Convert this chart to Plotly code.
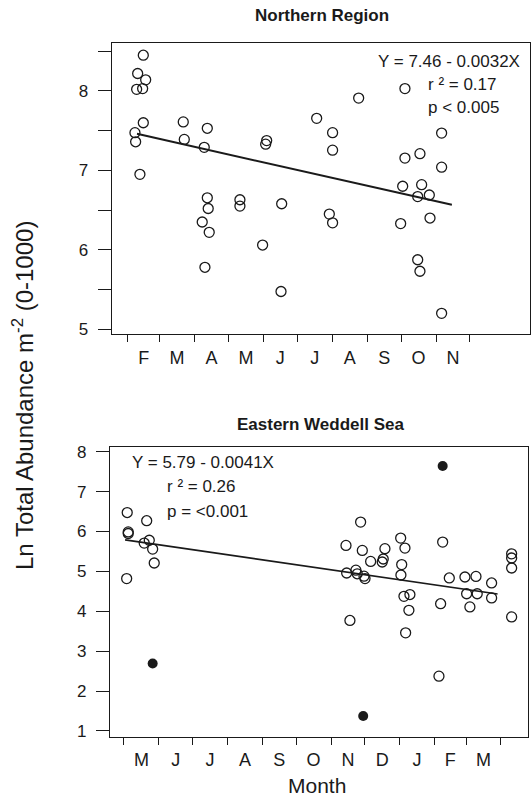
import numpy as np
import plotly.graph_objects as go

# ---------------- data ----------------
# Northern Region (x = day counted from 1 February)
north_day = [13.6, 8.6, 15.7, 7.7, 13.0, 13.6, 6.2, 6.8, 10.6,
             49.0, 49.9,
             70.3, 67.6, 70.3, 71.1, 65.8, 72.0, 68.2,
             99.2, 99.2,
             122.9, 122.0, 136.2, 119.3, 135.6,
             167.2, 181.3, 181.3, 178.4, 181.3,
             204.4,
             245.4, 245.4, 258.7, 243.4, 260.2, 256.7, 267.0, 241.6, 267.6, 256.7, 258.7,
             277.9, 277.9, 277.9]
north_ln = [8.45, 8.22, 8.14, 8.02, 8.03, 7.60, 7.475, 7.36, 6.95,
            7.61, 7.39,
            7.53, 7.29, 6.655, 6.52, 6.35, 6.22, 5.78,
            6.63, 6.55,
            7.375, 7.33, 6.58, 6.06, 5.475,
            7.655, 7.475, 7.255, 6.45, 6.34,
            7.91,
            8.03, 7.155, 7.21, 6.80, 6.82, 6.67, 6.69, 6.33, 6.40, 5.875, 5.73,
            7.47, 7.04, 5.20]
north_fit_day = [8, 287]
north_intercept, north_slope = 7.46, -0.0032

# Eastern Weddell Sea (x = day counted from 1 May)
east_day = [2.9, 3.8, 3.8, 2.4, 20.2, 18.0, 22.5, 25.5, 26.9,
            210.3, 197.3, 211.8, 219.2, 231.9, 230.4, 229.5, 197.9, 206.1, 207.3, 213.3, 214.2, 200.8,
            245.9, 249.7, 246.8, 246.1, 248.8, 254.1, 253.2, 250.3,
            283.2, 289.1, 303.0, 312.8, 304.5, 313.9, 326.7, 326.7, 281.4, 307.4, 279.9,
            344.5, 344.5, 344.5, 344.5]
east_ln = [6.475, 5.99, 5.95, 4.82, 6.27, 5.71, 5.78, 5.56, 5.21,
           6.235, 5.65, 5.525, 5.25, 5.57, 5.31, 5.235, 4.96, 5.03, 4.94, 4.88, 4.82, 3.77,
           5.835, 5.585, 5.17, 4.91, 4.375, 4.42, 4.025, 3.46,
           5.735, 4.835, 4.86, 4.875, 4.44, 4.44, 4.71, 4.335, 4.19, 4.11, 2.375,
           5.44, 5.335, 5.085, 3.86]
east_out_day = [25.5, 212.6, 283.2]
east_out_ln = [2.69, 1.375, 7.64]
east_fit_day = [1, 332]
east_intercept, east_slope = 5.79, -0.0041

north_months = ["F", "M", "A", "M", "J", "J", "A", "S", "O", "N"]
north_month_len = [28, 31, 30, 31, 30, 31, 31, 30, 31, 30]
east_months = ["M", "J", "J", "A", "S", "O", "N", "D", "J", "F", "M"]
east_month_len = [31, 30, 31, 31, 30, 31, 30, 31, 31, 28, 31]

north_yticks = [5, 6, 7, 8]
east_yticks = [1, 2, 3, 4, 5, 6, 7, 8]

# ---------------- figure ----------------
W, H = 531, 809
FONT = "Liberation Sans, Arial, Helvetica, sans-serif"
INK = "#1a1a1a"


def px_x(p):
    return p / W


def px_y(p):
    return 1 - p / H


def month_ticks(lengths):
    bounds = np.concatenate([[0], np.cumsum(lengths)])
    mids = (bounds[:-1] + bounds[1:]) / 2
    return bounds.tolist(), mids.tolist()


nb, nm = month_ticks(north_month_len)
eb, em = month_ticks(east_month_len)

fig = go.Figure()

marker_open = dict(symbol="circle-open", size=10, color=INK, line=dict(width=1.3, color=INK))

fig.add_trace(go.Scatter(x=north_day, y=north_ln, mode="markers", marker=marker_open,
                         xaxis="x", yaxis="y", showlegend=False))
nfx = np.array(north_fit_day, dtype=float)
fig.add_trace(go.Scatter(x=nfx, y=north_intercept + north_slope * (nfx - nfx[0]), mode="lines",
                         line=dict(color=INK, width=2), xaxis="x", yaxis="y", showlegend=False))

fig.add_trace(go.Scatter(x=east_day, y=east_ln, mode="markers", marker=marker_open,
                         xaxis="x2", yaxis="y2", showlegend=False))
fig.add_trace(go.Scatter(x=east_out_day, y=east_out_ln, mode="markers",
                         marker=dict(symbol="circle", size=10, color=INK),
                         xaxis="x2", yaxis="y2", showlegend=False))
efx = np.array(east_fit_day, dtype=float)
fig.add_trace(go.Scatter(x=efx, y=east_intercept + east_slope * (efx - efx[0]), mode="lines",
                         line=dict(color=INK, width=1.6), xaxis="x2", yaxis="y2", showlegend=False))

axis_common = dict(showline=True, mirror=True, linecolor=INK, linewidth=1.2,
                   showgrid=False, zeroline=False, tickcolor=INK, automargin=False,
                   tickfont=dict(family=FONT, size=17, color=INK))


def xaxis_cfg(domain, rng, mids, names, bounds, anchor):
    return dict(axis_common, domain=domain, range=rng, anchor=anchor,
                tickmode="array", tickvals=mids, ticktext=names, ticks="",
                ticklabelstandoff=7,
                tickfont=dict(family=FONT, size=18, color=INK),
                minor=dict(tickmode="array", tickvals=bounds, ticks="outside",
                           ticklen=7, tickwidth=1.2, tickcolor=INK, showgrid=False))


def yaxis_cfg(domain, rng, vals, minor_step, anchor):
    cfg = dict(axis_common, domain=domain, range=rng, anchor=anchor,
               tickmode="array", tickvals=vals, ticktext=[str(v) for v in vals],
               ticks="outside", ticklen=13, tickwidth=1.2, ticklabelstandoff=6)
    if minor_step:
        cfg["minor"] = dict(tick0=vals[0], dtick=minor_step, ticks="outside", ticklen=13,
                            tickwidth=1.2, tickcolor=INK, showgrid=False)
    return cfg


fig.update_layout(
    template="none",
    width=W, height=H,
    margin=dict(l=0, r=0, t=0, b=0),
    paper_bgcolor="white", plot_bgcolor="white",
    font=dict(family=FONT, color=INK),
    xaxis=xaxis_cfg([px_x(111.7), px_x(530)], [-14.4, 356.2], nm, north_months, nb, "y"),
    yaxis=yaxis_cfg([px_y(334), px_y(43.3)], [4.94, 8.60], north_yticks, 0.5, "x"),
    xaxis2=xaxis_cfg([px_x(110), px_x(528.3)], [-12.4, 359.3], em, east_months, eb, "y2"),
    yaxis2=yaxis_cfg([px_y(736.7), px_y(446.7)], [0.857, 8.125], east_yticks, None, "x2"),
)

ann = []


def add_text(text, x, y, size, xanchor="center", bold=False, angle=0):
    ann.append(dict(text=f"<b>{text}</b>" if bold else text, x=px_x(x), y=px_y(y),
                    xref="paper", yref="paper", xanchor=xanchor, yanchor="middle",
                    showarrow=False, textangle=angle,
                    font=dict(family=FONT, size=size, color=INK)))


add_text("Northern Region", 322, 16, 17, bold=True)
add_text("Eastern Weddell Sea", 320, 424, 17, bold=True)
add_text("Y = 7.46 - 0.0032X", 522, 61, 17, xanchor="right")
add_text("r ² = 0.17", 426, 84, 17, xanchor="left")
add_text("p < 0.005", 426, 108, 17, xanchor="left")
add_text("Y = 5.79 - 0.0041X", 130, 462, 17, xanchor="left")
add_text("r ² = 0.26", 165, 486, 17, xanchor="left")
add_text("p = <0.001", 165, 511, 17, xanchor="left")
add_text("Ln Total Abundance m<sup>-2</sup> (0-1000)", 23, 396, 24, angle=-90)
add_text("Month", 317, 785, 21)

fig.update_layout(annotations=ann)
fig.write_html("out.html")
